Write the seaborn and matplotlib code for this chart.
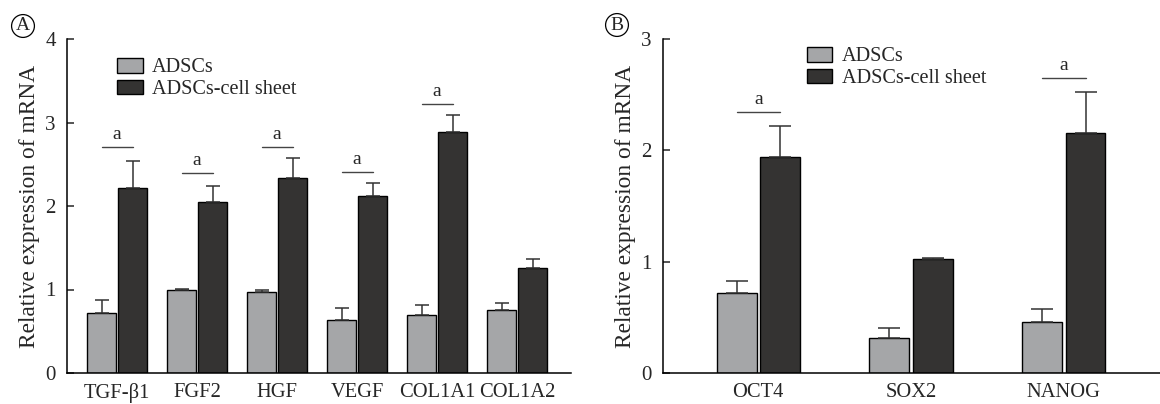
import numpy as np
import pandas as pd
import matplotlib
matplotlib.use('Agg')
import matplotlib.pyplot as plt
import seaborn as sns

# ── Data ────────────────────────────────────────────────────
GROUPS = ['ADSCs', 'ADSCs-cell sheet']

genes_a      = ['TGF-β1', 'FGF2', 'HGF', 'VEGF', 'COL1A1', 'COL1A2']
adsc_a       = [0.72, 1.00, 0.97, 0.64, 0.70, 0.76]
adsc_a_err   = [0.155, 0.005, 0.02, 0.14, 0.12, 0.08]
sheet_a      = [2.22, 2.05, 2.34, 2.12, 2.89, 1.26]
sheet_a_err  = [0.32, 0.19, 0.23, 0.15, 0.20, 0.11]
sig_a        = [2.71, 2.40, 2.71, 2.41, 3.22, None]

genes_b      = ['OCT4', 'SOX2', 'NANOG']
adsc_b       = [0.72, 0.31, 0.46]
adsc_b_err   = [0.11, 0.09, 0.115]
sheet_b      = [1.94, 1.02, 2.16]
sheet_b_err  = [0.28, 0.015, 0.36]
sig_b        = [2.34, None, 2.65]

COLORS = {'ADSCs': '#a5a6a8', 'ADSCs-cell sheet': '#343332'}
FONT = 'Liberation Serif'

sns.set_style('white')
plt.rcParams['font.family'] = [FONT, 'DejaVu Serif']


def make_frame(genes, adsc, sheet):
    return pd.DataFrame({
        'gene' : list(genes) * 2,
        'group': [GROUPS[0]] * len(genes) + [GROUPS[1]] * len(genes),
        'value': list(adsc) + list(sheet),
    })


def draw_panel(ax, genes, adsc, adsc_err, sheet, sheet_err, sig,
               ymax, width, gap, xlim, capsize, legend_anchor, letter, letter_xy, fig):
    df = make_frame(genes, adsc, sheet)
    sns.barplot(data=df, x='gene', y='value', hue='group', order=genes,
                hue_order=GROUPS, palette=COLORS, errorbar=None,
                width=width, gap=gap, edgecolor='black', linewidth=1.0,
                saturation=1, ax=ax)

    # upper-only error bars
    for cont, errs in zip(ax.containers, [adsc_err, sheet_err]):
        for bar, e in zip(cont, errs):
            xc = bar.get_x() + bar.get_width() / 2
            h = bar.get_height()
            ax.errorbar(xc, h, yerr=[[0], [e]], fmt='none', ecolor='#333333',
                        elinewidth=1.1, capsize=capsize, capthick=1.1, zorder=3)

    # significance markers
    left_bars, right_bars = ax.containers[0], ax.containers[1]
    for lb, rb, s in zip(left_bars, right_bars, sig):
        if s is None:
            continue
        x0 = lb.get_x() + lb.get_width() / 2
        x1 = rb.get_x() + rb.get_width() / 2
        ax.plot([x0, x1], [s, s], color='#444444', lw=1.0)
        ax.text((x0 + x1) / 2, s + ymax * 0.012, 'a', ha='center', va='bottom',
                fontsize=14, family=FONT)

    ax.set_ylim(0, ymax)
    ax.set_xlim(*xlim)
    ax.set_yticks(range(0, ymax + 1))
    ax.set_xlabel('')
    ax.set_ylabel('Relative expression of mRNA', fontsize=16.8, family=FONT, labelpad=4)
    ax.tick_params(axis='y', direction='in', length=5, width=1.1, labelsize=15, pad=8, left=True)
    ax.tick_params(axis='x', length=0, labelsize=14.8, pad=7)
    for lab in ax.get_xticklabels() + ax.get_yticklabels():
        lab.set_family(FONT)
    sns.despine(ax=ax)
    for sp in ['left', 'bottom']:
        ax.spines[sp].set_linewidth(1.1)
        ax.spines[sp].set_color('black')

    handles, labels = ax.get_legend_handles_labels()
    ax.legend(handles, labels, loc='upper left', bbox_to_anchor=legend_anchor,
              frameon=False, handlelength=1.25, handleheight=0.75,
              handletextpad=0.45, labelspacing=0.12, borderpad=0, borderaxespad=0,
              prop={'family': FONT, 'size': 14.6})

    fig.text(letter_xy[0], letter_xy[1], letter, ha='center', va='center',
             fontsize=14, family=FONT,
             bbox=dict(boxstyle='circle,pad=0.15', fc='none', ec='black', lw=0.9))


fig = plt.figure(figsize=(11.6, 4.04), dpi=100)
fig.patch.set_facecolor('white')

ax_a = fig.add_axes([67 / 1160, 31 / 404, 504 / 1160, 334 / 404])
ax_b = fig.add_axes([663 / 1160, 31 / 404, 497 / 1160, 334 / 404])

draw_panel(ax_a, genes_a, adsc_a, adsc_a_err, sheet_a, sheet_a_err, sig_a,
           ymax=4, width=0.775, gap=0.065, xlim=(-0.625, 5.675), capsize=5,
           legend_anchor=(0.10, 0.944), letter='A', letter_xy=(23 / 1160, 1 - 26 / 404), fig=fig)
draw_panel(ax_b, genes_b, adsc_b, adsc_b_err, sheet_b, sheet_b_err, sig_b,
           ymax=3, width=0.569, gap=0.08, xlim=(-0.624, 2.63), capsize=8,
           legend_anchor=(0.29, 0.977), letter='B', letter_xy=(617 / 1160, 1 - 25 / 404), fig=fig)

fig.savefig('out.png', dpi=100, facecolor='white')
